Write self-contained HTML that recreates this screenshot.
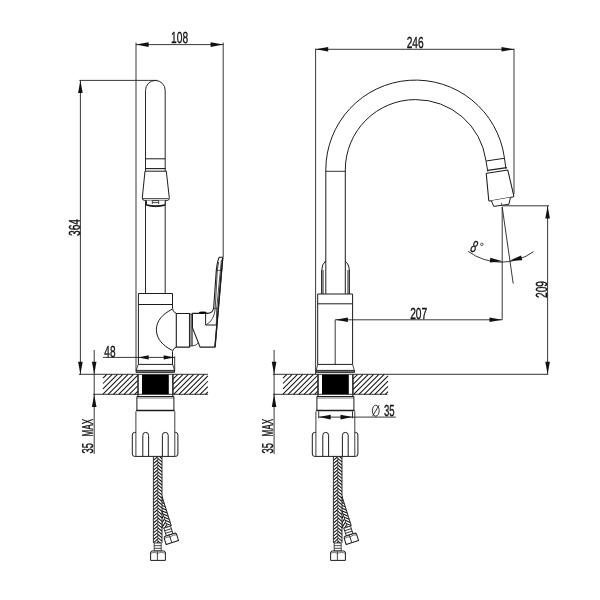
<!DOCTYPE html>
<html><head><meta charset="utf-8"><title>Faucet drawing</title>
<style>
html,body{margin:0;padding:0;background:#fff;}
body{width:600px;height:600px;overflow:hidden;font-family:"Liberation Sans",sans-serif;}
svg{display:block;}
svg text{font-family:"Liberation Sans",sans-serif;fill:#111;stroke:#111;stroke-width:0.35px;text-rendering:geometricPrecision;}
</style></head><body>
<svg width="600" height="600" viewBox="0 0 600 600">
<defs>
</defs>
<rect width="600" height="600" fill="#fff"/>
<g fill="none" stroke="#1c1c1c" stroke-width="1" stroke-linecap="butt" stroke-linejoin="round">

<g stroke="#1e1e1e" stroke-width="0.88">
<path d="M136,42.6V370.8M223.2,42.6V257M136,44.6H223.2"/>
<path d="M79.4,80.4H157M80.4,80.4V374.3"/>
<path d="M103,357.4H174.6M174.7,356.4V371.6"/>
<path d="M94.2,350V454"/>
<path d="M315.6,48.7V374.3M514,48.7V194M315.6,49.3H514"/>
<path d="M502.2,205.8H549M547.6,205.8V374.3"/>
<path d="M502.2,207V319.8M502.2,207L513.2,283.5"/>
<path d="M468.3,251.4A55.3,55.3 0 0 0 533.6,251.6"/>
<path d="M335.2,319.8H502.2M335.2,319.8V364.3"/>
<path d="M274.1,350V454"/>
<path d="M318.7,417.1H395.8M318.7,411.3V418.2M352.5,411.3V418.2"/>
</g>
<path d="M0,0L-12.5,-2.3L-12.5,2.3Z" transform="translate(136.1,44.6) rotate(180)" fill="#111" stroke="none"/>
<path d="M0,0L-12.5,-2.3L-12.5,2.3Z" transform="translate(223.1,44.6) rotate(0)" fill="#111" stroke="none"/>
<path d="M0,0L-12.5,-2.3L-12.5,2.3Z" transform="translate(80.4,80.5) rotate(-90)" fill="#111" stroke="none"/>
<path d="M0,0L-12.5,-2.3L-12.5,2.3Z" transform="translate(80.4,374.2) rotate(90)" fill="#111" stroke="none"/>
<path d="M0,0L-12.5,-2.3L-12.5,2.3Z" transform="translate(94.2,374.2) rotate(90)" fill="#111" stroke="none"/>
<path d="M0,0L-12.5,-2.3L-12.5,2.3Z" transform="translate(94.2,394.4) rotate(-90)" fill="#111" stroke="none"/>
<path d="M0,0L-10.5,-2.1L-10.5,2.1Z" transform="translate(138.2,357.4) rotate(180)" fill="#111" stroke="none"/>
<path d="M0,0L-10.5,-2.1L-10.5,2.1Z" transform="translate(174.2,357.4) rotate(0)" fill="#111" stroke="none"/>
<path d="M0,0L-12.5,-2.3L-12.5,2.3Z" transform="translate(315.7,49.3) rotate(180)" fill="#111" stroke="none"/>
<path d="M0,0L-12.5,-2.3L-12.5,2.3Z" transform="translate(514,49.3) rotate(0)" fill="#111" stroke="none"/>
<path d="M0,0L-12.5,-2.3L-12.5,2.3Z" transform="translate(547.6,206) rotate(-90)" fill="#111" stroke="none"/>
<path d="M0,0L-12.5,-2.3L-12.5,2.3Z" transform="translate(547.6,374.2) rotate(90)" fill="#111" stroke="none"/>
<path d="M0,0L-12.5,-2.3L-12.5,2.3Z" transform="translate(335.4,319.8) rotate(180)" fill="#111" stroke="none"/>
<path d="M0,0L-12.5,-2.3L-12.5,2.3Z" transform="translate(502,319.8) rotate(0)" fill="#111" stroke="none"/>
<path d="M0,0L-12.5,-2.3L-12.5,2.3Z" transform="translate(274.1,374.2) rotate(90)" fill="#111" stroke="none"/>
<path d="M0,0L-12.5,-2.3L-12.5,2.3Z" transform="translate(274.1,394.4) rotate(-90)" fill="#111" stroke="none"/>
<path d="M0,0L-12,-2.4L-12,2.4Z" transform="translate(318.7,417.1) rotate(180)" fill="#111" stroke="none"/>
<path d="M0,0L-12,-2.4L-12,2.4Z" transform="translate(352.5,417.1) rotate(0)" fill="#111" stroke="none"/>
<path d="M0,0L-12.6,-2.3L-12.6,2.3Z" transform="translate(502.6,261.2) rotate(5)" fill="#111" stroke="none"/>
<path d="M0,0L-12.6,-2.4L-12.6,2.4Z" transform="translate(509.4,260.7) rotate(167)" fill="#111" stroke="none"/>
<g opacity="0.99">
<g transform="translate(179.6,43.2) rotate(0)"><text x="0" y="0" font-size="16" text-anchor="middle" textLength="17" lengthAdjust="spacingAndGlyphs" >108</text></g>
<g transform="translate(79.6,227.5) rotate(-90)"><text x="0" y="0" font-size="16" text-anchor="middle" textLength="17" lengthAdjust="spacingAndGlyphs" >364</text></g>
<g transform="translate(109.9,356.8) rotate(0)"><text x="0" y="0" font-size="16" text-anchor="middle" textLength="11.2" lengthAdjust="spacingAndGlyphs" >48</text></g>
<g transform="translate(92.7,448.3) rotate(-90)"><text x="0" y="0" font-size="15.8" text-anchor="middle" textLength="10.4" lengthAdjust="spacingAndGlyphs" >35</text></g>
<g transform="translate(92.7,427.7) rotate(-90)"><text x="0" y="0" font-size="15.8" text-anchor="middle" textLength="17.6" lengthAdjust="spacingAndGlyphs" >MAX</text></g>
<g transform="translate(415.2,48.2) rotate(0)"><text x="0" y="0" font-size="16" text-anchor="middle" textLength="17" lengthAdjust="spacingAndGlyphs" >246</text></g>
<g transform="translate(418.7,319) rotate(0)"><text x="0" y="0" font-size="16" text-anchor="middle" textLength="17" lengthAdjust="spacingAndGlyphs" >207</text></g>
<g transform="translate(546.6,289.5) rotate(-90)"><text x="0" y="0" font-size="16" text-anchor="middle" textLength="17" lengthAdjust="spacingAndGlyphs" >209</text></g>
<g transform="translate(272.5,448.3) rotate(-90)"><text x="0" y="0" font-size="15.8" text-anchor="middle" textLength="10.4" lengthAdjust="spacingAndGlyphs" >35</text></g>
<g transform="translate(272.5,427.7) rotate(-90)"><text x="0" y="0" font-size="15.8" text-anchor="middle" textLength="17.6" lengthAdjust="spacingAndGlyphs" >MAX</text></g>
<g transform="translate(389.2,416.4) rotate(0)"><text x="0" y="0" font-size="16" text-anchor="middle" textLength="10.6" lengthAdjust="spacingAndGlyphs" >35</text></g>
<g stroke="#111" stroke-width="0.85" fill="none"><ellipse cx="375.75" cy="410.7" rx="3.4" ry="5.5"/><path d="M372.6,416.2L379,405.2"/></g>
<g transform="translate(469.6,250.9) rotate(20) scale(0.6,1)"><text x="0" y="0" font-size="17" font-style="italic" style="stroke-width:0.3px">8</text></g><circle cx="481.8" cy="244.4" r="1.25" fill="none" stroke="#111" stroke-width="0.7"/>
</g>
<path d="M103.00,378.20L106.90,374.30M103.00,383.50L112.20,374.30M103.00,388.80L117.50,374.30M103.00,394.10L122.80,374.30M108.10,394.30L128.10,374.30M113.40,394.30L133.40,374.30M118.70,394.30L137.60,375.40M124.00,394.30L137.60,380.70M129.30,394.30L137.60,386.00M134.60,394.30L137.60,391.30" stroke-width="1.05" stroke="#151515"/>
<path d="M173.00,379.05L177.75,374.30M173.00,384.35L183.05,374.30M173.00,389.65L188.35,374.30M173.65,394.30L193.65,374.30M178.95,394.30L198.95,374.30M184.25,394.30L204.25,374.30M189.55,394.30L207.90,375.95M194.85,394.30L207.90,381.25M200.15,394.30L207.90,386.55M205.45,394.30L207.90,391.85" stroke-width="1.05" stroke="#151515"/>
<path d="M78.8,374.3H208M93.2,394.3H208" stroke-width="0.9"/>
<path d="M283.00,378.20L286.90,374.30M283.00,383.50L292.20,374.30M283.00,388.80L297.50,374.30M283.00,394.10L302.80,374.30M288.10,394.30L308.10,374.30M293.40,394.30L313.40,374.30M298.70,394.30L318.00,375.00M304.00,394.30L318.00,380.30M309.30,394.30L318.00,385.60M314.60,394.30L318.00,390.90" stroke-width="1.05" stroke="#151515"/>
<path d="M353.00,379.00L357.70,374.30M353.00,384.30L363.00,374.30M353.00,389.60L368.30,374.30M353.60,394.30L373.60,374.30M358.90,394.30L378.90,374.30M364.20,394.30L384.20,374.30M369.50,394.30L388.00,375.80M374.80,394.30L388.00,381.10M380.10,394.30L388.00,386.40M385.40,394.30L388.00,391.70" stroke-width="1.05" stroke="#151515"/>
<path d="M273,374.3H548.2M273,394.3H387.4" stroke-width="0.9"/>
<g transform="translate(0,0)">
<rect x="142" y="374.6" width="26.8" height="19.6" fill="#000" stroke="none"/>
<path d="M138,374.3V394.4M172.9,374.3V394.4" stroke-width="1.5"/>
<path d="M136.9,410.6V396.5H173.9V410.6" />
<path d="M138,394.4V396.5M172.8,394.4V396.5" />
<path d="M136.9,398H173.9" stroke-width="0.6"/>
<path d="M136.2,410.6H174.6" stroke-width="1.5"/>
<path d="M135.9,456.3V411.3M174.8,456.3V411.3" stroke-width="0.85"/>
<path d="M135.9,432.4H134.6Q132.3,432.4 132.3,435V454Q132.3,456.4 134.6,456.4H175.6Q177.9,456.4 177.9,454V435Q177.9,432.4 175.6,432.4H174.8" />
<path d="M142.8,456.3V435.30A2.90,2.90 0 0 1 148.6,435.30V456.3" fill="none"/>
<path d="M162.4,456.3V435.30A2.90,2.90 0 0 1 168.2,435.30V456.3" fill="none"/>
<g transform="rotate(-17.5 157.8 497)">
<clipPath id="hc1"><rect x="153.4" y="497" width="8.599999999999994" height="31.600000000000023"/></clipPath><rect x="153.4" y="497" width="8.599999999999994" height="31.600000000000023" fill="#fff" stroke="none"/><path d="M153.4,497.00L157.7,493.40M157.7,495.05L162.0,498.65M153.4,500.30L157.7,496.70M157.7,498.35L162.0,501.95M153.4,503.60L157.7,500.00M157.7,501.65L162.0,505.25M153.4,506.90L157.7,503.30M157.7,504.95L162.0,508.55M153.4,510.20L157.7,506.60M157.7,508.25L162.0,511.85M153.4,513.50L157.7,509.90M157.7,511.55L162.0,515.15M153.4,516.80L157.7,513.20M157.7,514.85L162.0,518.45M153.4,520.10L157.7,516.50M157.7,518.15L162.0,521.75M153.4,523.40L157.7,519.80M157.7,521.45L162.0,525.05M153.4,526.70L157.7,523.10M157.7,524.75L162.0,528.35M153.4,530.00L157.7,526.40M157.7,528.05L162.0,531.65" clip-path="url(#hc1)" stroke="#111" stroke-width="1.05" stroke-linejoin="miter" fill="none"/><path d="M157.7,497V528.6" stroke-width="0.6"/><path d="M153.4,497V528.6M162.0,497V528.6" stroke-width="0.9"/>
<rect x="154.2" y="528.6" width="7" height="8.0" fill="#fff" stroke-width="0.8"/><path d="M154.2,531.27H161.2M154.2,533.93H161.2" stroke-width="0.8"/>
<path d="M153.1,536.6H162.9Q164.5,536.6 164.5,538.6V544.8H151.5V538.6Q151.5,536.6 153.1,536.6Z" fill="#fff"/><path d="M157.4,537.0V544.8" stroke-width="0.8"/><path d="M151.5,538.8000000000001Q154.75,537.2 157.4,538.8000000000001Q161.25,537.2 164.5,538.8000000000001" stroke-width="0.6" fill="none"/>
</g>
<clipPath id="hc2"><rect x="153.4" y="457" width="8.599999999999994" height="86"/></clipPath><rect x="153.4" y="457" width="8.599999999999994" height="86" fill="#fff" stroke="none"/><path d="M153.4,457.00L157.7,453.40M157.7,455.05L162.0,458.65M153.4,460.30L157.7,456.70M157.7,458.35L162.0,461.95M153.4,463.60L157.7,460.00M157.7,461.65L162.0,465.25M153.4,466.90L157.7,463.30M157.7,464.95L162.0,468.55M153.4,470.20L157.7,466.60M157.7,468.25L162.0,471.85M153.4,473.50L157.7,469.90M157.7,471.55L162.0,475.15M153.4,476.80L157.7,473.20M157.7,474.85L162.0,478.45M153.4,480.10L157.7,476.50M157.7,478.15L162.0,481.75M153.4,483.40L157.7,479.80M157.7,481.45L162.0,485.05M153.4,486.70L157.7,483.10M157.7,484.75L162.0,488.35M153.4,490.00L157.7,486.40M157.7,488.05L162.0,491.65M153.4,493.30L157.7,489.70M157.7,491.35L162.0,494.95M153.4,496.60L157.7,493.00M157.7,494.65L162.0,498.25M153.4,499.90L157.7,496.30M157.7,497.95L162.0,501.55M153.4,503.20L157.7,499.60M157.7,501.25L162.0,504.85M153.4,506.50L157.7,502.90M157.7,504.55L162.0,508.15M153.4,509.80L157.7,506.20M157.7,507.85L162.0,511.45M153.4,513.10L157.7,509.50M157.7,511.15L162.0,514.75M153.4,516.40L157.7,512.80M157.7,514.45L162.0,518.05M153.4,519.70L157.7,516.10M157.7,517.75L162.0,521.35M153.4,523.00L157.7,519.40M157.7,521.05L162.0,524.65M153.4,526.30L157.7,522.70M157.7,524.35L162.0,527.95M153.4,529.60L157.7,526.00M157.7,527.65L162.0,531.25M153.4,532.90L157.7,529.30M157.7,530.95L162.0,534.55M153.4,536.20L157.7,532.60M157.7,534.25L162.0,537.85M153.4,539.50L157.7,535.90M157.7,537.55L162.0,541.15M153.4,542.80L157.7,539.20M157.7,540.85L162.0,544.45M153.4,546.10L157.7,542.50M157.7,544.15L162.0,547.75" clip-path="url(#hc2)" stroke="#111" stroke-width="1.05" stroke-linejoin="miter" fill="none"/><path d="M157.7,457V543" stroke-width="0.6"/><path d="M153.4,457V543M162.0,457V543" stroke-width="0.9"/>
<rect x="154.2" y="543" width="7" height="8" fill="#fff" stroke-width="0.8"/><path d="M154.2,545.67H161.2M154.2,548.33H161.2" stroke-width="0.8"/>
<path d="M152.2,551H163.8Q165.4,551 165.4,553V560.4H150.6V553Q150.6,551 152.2,551Z" fill="#fff"/><path d="M157.4,551.4V560.4" stroke-width="0.8"/><path d="M150.6,553.2Q154.3,551.6 157.4,553.2Q161.7,551.6 165.4,553.2" stroke-width="0.6" fill="none"/>
</g>
<g transform="translate(180,0)">
<rect x="142" y="374.6" width="26.8" height="19.6" fill="#000" stroke="none"/>
<path d="M138,374.3V394.4M172.9,374.3V394.4" stroke-width="1.5"/>
<path d="M136.9,410.6V396.5H173.9V410.6" />
<path d="M138,394.4V396.5M172.8,394.4V396.5" />
<path d="M136.9,398H173.9" stroke-width="0.6"/>
<path d="M136.2,410.6H174.6" stroke-width="1.5"/>
<path d="M135.9,456.3V411.3M174.8,456.3V411.3" stroke-width="0.85"/>
<path d="M135.9,432.4H134.6Q132.3,432.4 132.3,435V454Q132.3,456.4 134.6,456.4H175.6Q177.9,456.4 177.9,454V435Q177.9,432.4 175.6,432.4H174.8" />
<path d="M142.8,456.3V435.30A2.90,2.90 0 0 1 148.6,435.30V456.3" fill="none"/>
<path d="M162.4,456.3V435.30A2.90,2.90 0 0 1 168.2,435.30V456.3" fill="none"/>
<g transform="rotate(-17.5 157.8 497)">
<clipPath id="hc3"><rect x="153.4" y="497" width="8.599999999999994" height="31.600000000000023"/></clipPath><rect x="153.4" y="497" width="8.599999999999994" height="31.600000000000023" fill="#fff" stroke="none"/><path d="M153.4,497.00L157.7,493.40M157.7,495.05L162.0,498.65M153.4,500.30L157.7,496.70M157.7,498.35L162.0,501.95M153.4,503.60L157.7,500.00M157.7,501.65L162.0,505.25M153.4,506.90L157.7,503.30M157.7,504.95L162.0,508.55M153.4,510.20L157.7,506.60M157.7,508.25L162.0,511.85M153.4,513.50L157.7,509.90M157.7,511.55L162.0,515.15M153.4,516.80L157.7,513.20M157.7,514.85L162.0,518.45M153.4,520.10L157.7,516.50M157.7,518.15L162.0,521.75M153.4,523.40L157.7,519.80M157.7,521.45L162.0,525.05M153.4,526.70L157.7,523.10M157.7,524.75L162.0,528.35M153.4,530.00L157.7,526.40M157.7,528.05L162.0,531.65" clip-path="url(#hc3)" stroke="#111" stroke-width="1.05" stroke-linejoin="miter" fill="none"/><path d="M157.7,497V528.6" stroke-width="0.6"/><path d="M153.4,497V528.6M162.0,497V528.6" stroke-width="0.9"/>
<rect x="154.2" y="528.6" width="7" height="8.0" fill="#fff" stroke-width="0.8"/><path d="M154.2,531.27H161.2M154.2,533.93H161.2" stroke-width="0.8"/>
<path d="M153.1,536.6H162.9Q164.5,536.6 164.5,538.6V544.8H151.5V538.6Q151.5,536.6 153.1,536.6Z" fill="#fff"/><path d="M157.4,537.0V544.8" stroke-width="0.8"/><path d="M151.5,538.8000000000001Q154.75,537.2 157.4,538.8000000000001Q161.25,537.2 164.5,538.8000000000001" stroke-width="0.6" fill="none"/>
</g>
<clipPath id="hc4"><rect x="153.4" y="457" width="8.599999999999994" height="86"/></clipPath><rect x="153.4" y="457" width="8.599999999999994" height="86" fill="#fff" stroke="none"/><path d="M153.4,457.00L157.7,453.40M157.7,455.05L162.0,458.65M153.4,460.30L157.7,456.70M157.7,458.35L162.0,461.95M153.4,463.60L157.7,460.00M157.7,461.65L162.0,465.25M153.4,466.90L157.7,463.30M157.7,464.95L162.0,468.55M153.4,470.20L157.7,466.60M157.7,468.25L162.0,471.85M153.4,473.50L157.7,469.90M157.7,471.55L162.0,475.15M153.4,476.80L157.7,473.20M157.7,474.85L162.0,478.45M153.4,480.10L157.7,476.50M157.7,478.15L162.0,481.75M153.4,483.40L157.7,479.80M157.7,481.45L162.0,485.05M153.4,486.70L157.7,483.10M157.7,484.75L162.0,488.35M153.4,490.00L157.7,486.40M157.7,488.05L162.0,491.65M153.4,493.30L157.7,489.70M157.7,491.35L162.0,494.95M153.4,496.60L157.7,493.00M157.7,494.65L162.0,498.25M153.4,499.90L157.7,496.30M157.7,497.95L162.0,501.55M153.4,503.20L157.7,499.60M157.7,501.25L162.0,504.85M153.4,506.50L157.7,502.90M157.7,504.55L162.0,508.15M153.4,509.80L157.7,506.20M157.7,507.85L162.0,511.45M153.4,513.10L157.7,509.50M157.7,511.15L162.0,514.75M153.4,516.40L157.7,512.80M157.7,514.45L162.0,518.05M153.4,519.70L157.7,516.10M157.7,517.75L162.0,521.35M153.4,523.00L157.7,519.40M157.7,521.05L162.0,524.65M153.4,526.30L157.7,522.70M157.7,524.35L162.0,527.95M153.4,529.60L157.7,526.00M157.7,527.65L162.0,531.25M153.4,532.90L157.7,529.30M157.7,530.95L162.0,534.55M153.4,536.20L157.7,532.60M157.7,534.25L162.0,537.85M153.4,539.50L157.7,535.90M157.7,537.55L162.0,541.15M153.4,542.80L157.7,539.20M157.7,540.85L162.0,544.45M153.4,546.10L157.7,542.50M157.7,544.15L162.0,547.75" clip-path="url(#hc4)" stroke="#111" stroke-width="1.05" stroke-linejoin="miter" fill="none"/><path d="M157.7,457V543" stroke-width="0.6"/><path d="M153.4,457V543M162.0,457V543" stroke-width="0.9"/>
<rect x="154.2" y="543" width="7" height="8" fill="#fff" stroke-width="0.8"/><path d="M154.2,545.67H161.2M154.2,548.33H161.2" stroke-width="0.8"/>
<path d="M152.2,551H163.8Q165.4,551 165.4,553V560.4H150.6V553Q150.6,551 152.2,551Z" fill="#fff"/><path d="M157.4,551.4V560.4" stroke-width="0.8"/><path d="M150.6,553.2Q154.3,551.6 157.4,553.2Q161.7,551.6 165.4,553.2" stroke-width="0.6" fill="none"/>
</g>
<path d="M145.5,293.5V90.3A9.85,9.85 0 0 1 165.2,90.3V293.5" stroke-width="0.95"/>
<path d="M145.5,158.8H165.2"/>
<path d="M145.2,168.6H165.6" stroke-width="1.1"/>
<path d="M145,171.2H166.3L169.3,197.8Q169.5,200.3 167.3,200.4H144.4Q142.2,200.3 142.3,197.8Z" fill="#fff"/>
<path d="M142.8,198.6H168.6" stroke-width="0.8"/>
<path d="M146.3,200.4L146.6,205.4Q155.6,208 165,205.4L165.3,200.4" fill="#fff"/>
<path d="M146.6,205Q155.6,207 165,205" stroke-width="1.6"/>
<path d="M152.3,204V200.6H158.7V204M152.3,202.6H158.7" stroke-width="0.8"/>
<path d="M138.4,364.4V293.5H172.5V308.6Q172.7,311.8 176.2,313.4"/>
<path d="M138.4,304.5H172.5"/>
<path d="M172.2,309.2C163,313.8 156.4,320.5 156.4,329.7C156.4,339 163,345.8 172.2,350.3"/>
<path d="M176.2,347.1Q172.7,348.6 172.5,351.4V364.4"/>
<path d="M138.4,364.4H172.8" />
<path d="M138.2,364.4L136.3,370.4M172.7,364.4L174.5,370.4" stroke-width="0.8"/>
<rect x="136.1" y="370.4" width="38.4" height="2" fill="#777" stroke-width="0.9"/>
<rect x="176.3" y="313.5" width="13.2" height="33.6" fill="#fff" stroke-width="1.1"/>
<rect x="189.5" y="314" width="2.7" height="32" fill="#999" stroke-width="0.8"/>
<path d="M192.2,313.4H207Q213.2,313.2 213.7,307.5L216.3,270.4Q217.2,261.5 219.2,257.3H222.8L215,347.1H200.1L192.4,327.6V313.4" stroke-width="1.1"/>
<path d="M192.2,346Q196.5,345.6 198.3,342.9" stroke-width="0.8"/>
<path d="M222.7,257.5L215,347" stroke-width="1.45"/>
<path d="M205.6,313.4V325H216.8" />
<path d="M206.4,324.6Q214.2,320.5 215.2,308.7L217.3,270.4L218.6,262" stroke-width="0.8"/>
<path d="M216.3,325L216.7,308.7L221.4,260" stroke-width="0.8"/>
<path d="M213.7,308.4H218.6M216.3,270.4H221" stroke-width="0.7"/>
<ellipse cx="202.8" cy="312.6" rx="3.8" ry="1.05" fill="#000" stroke="none"/>
<path d="M325.8,294V169.8A89.7,89.7 0 0 1 504.33,157.32L505.93,168.70"/>
<path d="M345.3,294V169.8A70.2,70.2 0 0 1 415.5,99.60000000000001A70.8,70.2 0 0 1 485.9,160.4L487.8,171.6"/>
<path d="M325.8,171.3H345.3" stroke-width="0.9"/>
<path d="M486.1,161L504.9,158.2"/>
<path d="M487.6,170.4L506.8,167.6" stroke-width="1.3"/>
<path d="M487,173.25L507.8,170.1L513.7,195.4Q514,196.7 512.8,196.9L490,200.9Q488.8,201.1 488.7,199.9L486.3,174.1Q486.3,173.35 487,173.25Z" fill="#fff" stroke-width="1.05"/>
<path d="M491.5,200.8L493.7,206.4L508.9,204.3L510.4,197.6" fill="#fff"/>
<path d="M501.6,202.8V205.2" stroke-width="0.7"/>
<path d="M321.6,294V271Q321.8,264 325.6,261M323,294V270"/>
<path d="M349.4,294V271Q349.2,264 345,261M348,294V270"/>
<path d="M317.7,364.4V294H352.6V364.4"/>
<path d="M317.7,303.8H352.6"/>
<path d="M317.7,364.4H352.6"/>
<path d="M317.7,364.4L316.3,370.4M352.6,364.4L354.3,370.4" stroke-width="0.8"/>
<rect x="316.1" y="370.4" width="38.4" height="2" fill="#777" stroke-width="0.9"/>
</g></svg></body></html>
